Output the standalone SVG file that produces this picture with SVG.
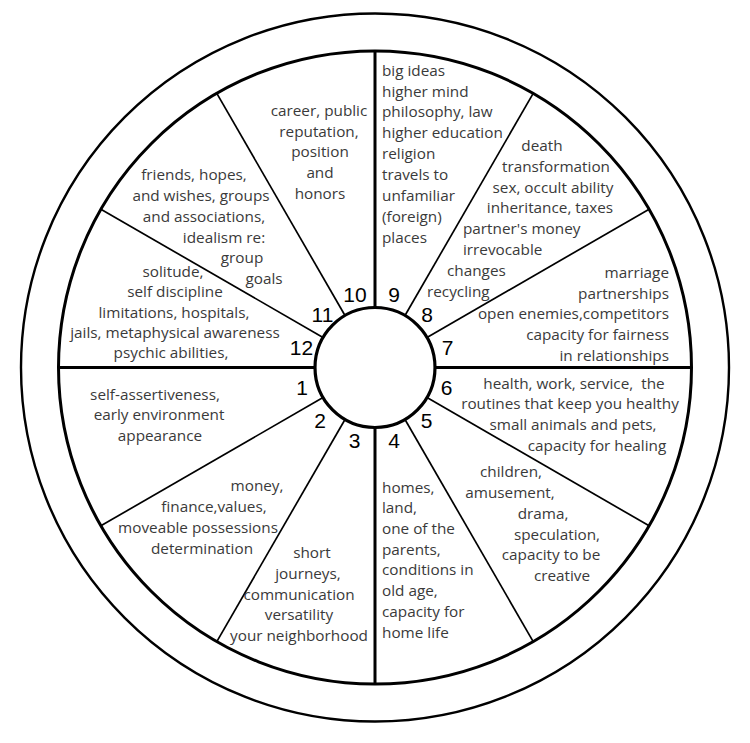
<svg xmlns="http://www.w3.org/2000/svg" width="750" height="743" viewBox="0 0 750 743">
<style>
.ring{fill:none;stroke:#000}
.spk{stroke:#000;stroke-width:1.7;fill:none}
.axis{stroke:#000;stroke-width:3;fill:none}
.t{font-family:"Open Sans","DejaVu Sans",sans-serif;font-size:15.3px;fill:#3a3a3a}
.m{text-anchor:middle}
.e{text-anchor:end}
.n{font-family:"Liberation Sans",Arial,sans-serif;font-size:21px;fill:#000;text-anchor:middle}
</style>
<rect width="750" height="743" fill="#fff"/>
<g id="wheel">
<circle class="ring" cx="375" cy="367.5" r="354" stroke-width="2.4"/>
<circle class="ring" cx="375" cy="367.5" r="316.5" stroke-width="3"/>
<circle id="hub" class="ring" cx="375" cy="367.5" r="60" stroke-width="3.2" fill="#fff"/>
</g>
<g id="connectors">
<line class="axis" x1="58.5" y1="367.5" x2="315" y2="367.5"/>
<line class="axis" x1="435" y1="367.5" x2="691.5" y2="367.5"/>
<line class="axis" x1="375" y1="51" x2="375" y2="307.5"/>
<line class="axis" x1="375" y1="427.5" x2="375" y2="684"/>
<line class="spk" x1="405" y1="315.5" x2="533.2" y2="93.4"/>
<line class="spk" x1="427" y1="337.5" x2="649.1" y2="209.2"/>
<line class="spk" x1="427" y1="397.5" x2="649.1" y2="525.8"/>
<line class="spk" x1="405" y1="419.5" x2="533.2" y2="641.6"/>
<line class="spk" x1="345" y1="419.5" x2="216.8" y2="641.6"/>
<line class="spk" x1="323" y1="397.5" x2="100.9" y2="525.8"/>
<line class="spk" x1="323" y1="337.5" x2="100.9" y2="209.2"/>
<line class="spk" x1="345" y1="315.5" x2="216.8" y2="93.4"/>
</g>
<g id="house1">
<text class="n" x="302" y="395">1</text>
<text class="t m"><tspan x="155" y="400">self-assertiveness,</tspan><tspan x="159" y="420">early environment</tspan><tspan x="160" y="441">appearance</tspan></text>
</g>
<g id="house2">
<text class="n" x="320" y="428">2</text>
<text class="t m"><tspan x="257" y="491">money,</tspan><tspan x="214" y="512">finance,values,</tspan><tspan x="198" y="533">moveable possessions</tspan><tspan x="202" y="554">determination</tspan></text>
</g>
<g id="house3">
<text class="n" x="354.5" y="448">3</text>
<text class="t m"><tspan x="312" y="558">short</tspan><tspan x="308" y="579">journeys,</tspan><tspan x="299" y="600">communication</tspan><tspan x="299" y="620">versatility</tspan><tspan x="299" y="641">your neighborhood</tspan></text>
</g>
<g id="house4">
<text class="n" x="394" y="448">4</text>
<text class="t"><tspan x="382" y="493">homes,</tspan><tspan x="382" y="513">land,</tspan><tspan x="382" y="534">one of the</tspan><tspan x="382" y="555">parents,</tspan><tspan x="382" y="575">conditions in</tspan><tspan x="382" y="596">old age,</tspan><tspan x="382" y="617">capacity for</tspan><tspan x="382" y="638">home life</tspan></text>
</g>
<g id="house5">
<text class="n" x="426.5" y="428">5</text>
<text class="t m"><tspan x="511" y="477">children,</tspan><tspan x="510" y="498">amusement,</tspan><tspan x="543" y="519">drama,</tspan><tspan x="557" y="540">speculation,</tspan><tspan x="551" y="560">capacity to be</tspan><tspan x="562" y="581">creative</tspan></text>
</g>
<g id="house6">
<text class="n" x="446.5" y="395">6</text>
<text class="t m" xml:space="preserve"><tspan x="574" y="389">health, work, service,  the</tspan><tspan x="570" y="409">routines that keep you healthy</tspan><tspan x="573" y="430">small animals and pets,</tspan><tspan x="597" y="451">capacity for healing</tspan></text>
</g>
<g id="house7">
<text class="n" x="447.5" y="355">7</text>
<text class="t e"><tspan x="669" y="278">marriage</tspan><tspan x="669" y="299">partnerships</tspan><tspan x="669" y="319">open enemies,competitors</tspan><tspan x="669" y="340">capacity for fairness</tspan><tspan x="669" y="361">in relationships</tspan></text>
</g>
<g id="house8">
<text class="n" x="427" y="322">8</text>
<text class="t m"><tspan x="542" y="151">death</tspan><tspan x="556" y="172">transformation</tspan><tspan x="553" y="193">sex, occult ability</tspan><tspan x="550" y="213">inheritance, taxes</tspan></text>
<text class="t"><tspan x="463" y="234">partner's money</tspan><tspan x="463" y="255">irrevocable</tspan><tspan x="447" y="276">changes</tspan><tspan x="427" y="297">recycling</tspan></text>
</g>
<g id="house9">
<text class="n" x="394" y="302">9</text>
<text class="t"><tspan x="382" y="76">big ideas</tspan><tspan x="382" y="97">higher mind</tspan><tspan x="382" y="117">philosophy, law</tspan><tspan x="382" y="138">higher education</tspan><tspan x="382" y="159">religion</tspan><tspan x="382" y="180">travels to</tspan><tspan x="382" y="201">unfamiliar</tspan><tspan x="382" y="222">(foreign)</tspan><tspan x="382" y="243">places</tspan></text>
</g>
<g id="house10">
<text class="n" x="355" y="302">10</text>
<text class="t m"><tspan x="319" y="116">career, public</tspan><tspan x="319" y="137">reputation,</tspan><tspan x="320" y="157">position</tspan><tspan x="320" y="178">and</tspan><tspan x="320" y="199">honors</tspan></text>
</g>
<g id="house11">
<text class="n" x="322.5" y="322">11</text>
<text class="t m"><tspan x="194" y="180">friends, hopes,</tspan><tspan x="201" y="201">and wishes, groups</tspan><tspan x="204" y="222">and associations,</tspan><tspan x="224" y="243">idealism re:</tspan><tspan x="242" y="263">group</tspan><tspan x="264" y="284">goals</tspan></text>
</g>
<g id="house12">
<text class="n" x="301.5" y="355">12</text>
<text class="t m"><tspan x="173" y="277">solitude,</tspan><tspan x="175" y="297">self discipline</tspan><tspan x="174" y="318">limitations, hospitals,</tspan><tspan x="175" y="338">jails, metaphysical awareness</tspan><tspan x="171" y="358">psychic abilities,</tspan></text>
</g>
</svg>
